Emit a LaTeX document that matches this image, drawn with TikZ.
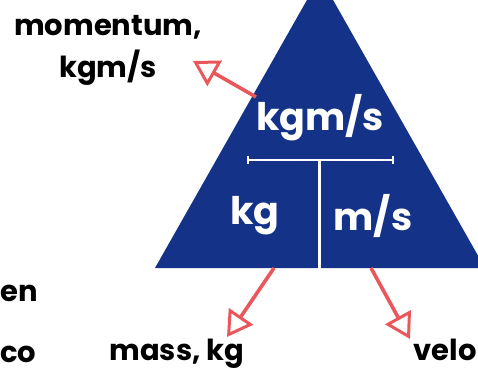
\documentclass[tikz,border=0pt]{standalone}
\usepackage{fontspec}
\setmainfont{Poppins}
\usetikzlibrary{arrows.meta}
\definecolor{triblue}{HTML}{143287}
\definecolor{arrred}{HTML}{E9575B}
\tikzset{
  unit/.style = {text = white, font = \fontsize{38}{44}\selectfont\bfseries, inner sep = 0pt},
  lbl/.style = {text = black, font = \fontsize{29}{42}\selectfont\bfseries, inner sep = 0pt},
  pointer/.style = {arrred, line width = 3.6pt, -{Triangle[open, length = 25pt, width = 29pt, line width = 3pt]}}
}
\begin{document}
\begin{tikzpicture} [x = 1pt, y = -1pt]
	\useasboundingbox (0,0) rectangle (478,371);
	% triangle
	\coordinate (apex) at (320,-23);
	\coordinate (bl) at (155,268);
	\coordinate (br) at (485,268);
	\fill [triblue] (apex) -- (bl) -- (br) -- cycle;
	% dividers
	\draw [white, line width = 2pt] (248,160) -- (393,160);
	\draw [white, line width = 1.2pt] (248,156) -- (248,164) (393,156) -- (393,164);
	\draw [white, line width = 3pt] (319,160) -- (319,270);
	% units
	\node [unit] (p) at (320,118) {kgm/s};
	\node [unit] (m) at (255,216) {kg};
	\node [unit] (v) at (373,216) {m/s};
	% labels
	\node [lbl, align = center] (plbl) at (108,50) {momentum,\\kgm/s};
	\node [lbl] (mlbl) at (177,354) {mass, kg};
	\node [lbl, anchor = east] (vlbl) at (477,350) {velo};
	\node [lbl, anchor = west] (en) at (0,293) {en};
	\node [lbl, anchor = west] (co) at (0,354) {co};
	% arrows
	\coordinate (ptip) at (193,61);
	\coordinate (mtip) at (227,337);
	\coordinate (vtip) at (410,339);
	\draw [pointer] (256,97) -- (ptip);
	\draw [pointer] (274,268) -- (mtip);
	\draw [pointer] (371,268) -- (vtip);
\end{tikzpicture}
\end{document}
